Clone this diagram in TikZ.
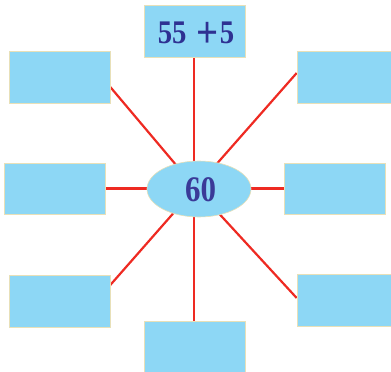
\documentclass[tikz,border=0pt]{standalone}
\usepackage{fontspec}
\newfontfamily\numfont{Liberation Serif}
\usetikzlibrary{shapes.geometric}
\definecolor{boxfill}{HTML}{8DD7F5}
\definecolor{boxline}{HTML}{E8E0B8}
\definecolor{linkred}{HTML}{EE2A22}
\definecolor{numblue}{HTML}{2E3192}
\definecolor{numpurple}{HTML}{3A3A98}
\begin{document}
\begin{tikzpicture}[x=1pt,y=-1pt,
  box/.style={draw=boxline,line width=0.6pt,fill=boxfill,rectangle,inner sep=0pt,
    minimum width=101pt,minimum height=52pt},
  link/.style={draw=linkred,line width=2.2pt},
  num/.style={text=numblue,inner sep=0pt,font=\numfont\bfseries\fontsize{33}{33}\selectfont}]
\useasboundingbox (0,0) rectangle (391,372);
\clip (0,0) rectangle (391,372);
\coordinate (hub) at (195.5,188);
% nodes
\node[box] (top) at (195,31) {};
\node[box] (ul) at (59.5,77) {};
\node[box] (ur) at (347.5,77) {};
\node[box,minimum height=51pt] (ml) at (54.5,188.5) {};
\node[box,minimum height=51pt] (mr) at (334.5,188.5) {};
\node[box] (ll) at (59.5,301) {};
\node[box] (lr) at (347.5,300) {};
\node[box] (bot) at (194.5,347) {};
% connectors
\draw[link] (top.south -| hub) ++(-1.5,0) coordinate (tv) -- (tv |- bot.north);
\draw[link] (ml.east) -- (mr.west);
\draw[link] (hub) -- ([yshift=-10pt]ul.east);
\draw[link] (hub) -- ([yshift=4pt]ur.west);
\draw[link] (hub) -- ([yshift=16pt]ll.east);
\draw[link] (hub) -- ([yshift=2pt]lr.west);
% redraw boxes on top of line ends
\node[box] at (top) {};
\node[box] at (ul) {};
\node[box] at (ur) {};
\node[box,minimum height=51pt] at (ml) {};
\node[box,minimum height=51pt] at (mr) {};
\node[box] at (ll) {};
\node[box] at (lr) {};
\node[box] at (bot) {};
\node[num,xscale=0.87,anchor=base] (toptext) at (196,43) {55\hspace{12pt}\raisebox{-4pt}{\scalebox{1.35}{+}}\hspace{1pt}5};
\node[ellipse,draw=boxline,line width=0.6pt,fill=boxfill,minimum width=104pt,minimum height=56pt,inner sep=0pt] (center) at (199,189) {};
\node[num,text=numpurple,font=\numfont\bfseries\fontsize{36}{36}\selectfont,xscale=0.86,anchor=base] (ctext) at (200.5,201) {60};
\end{tikzpicture}
\end{document}
